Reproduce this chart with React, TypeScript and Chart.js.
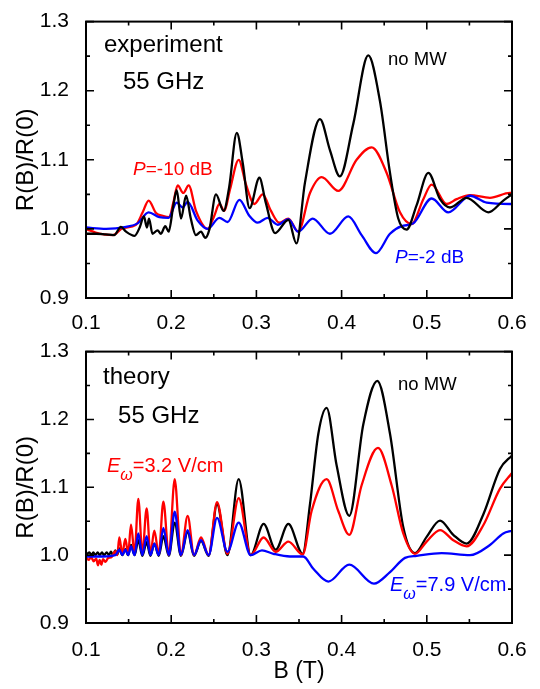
import React, { useEffect, useRef } from "react";
import { Chart, registerables } from "chart.js";

Chart.register(...registerables);

const FONT = '"Liberation Sans", Arial, Helvetica, sans-serif';

// Axis ticks
const xTicks = [0.1, 0.2, 0.3, 0.4, 0.5, 0.6];
const xMinorTicks = [0.15, 0.25, 0.35, 0.45, 0.55];
const yTicks = [0.9, 1.0, 1.1, 1.2, 1.3];
const yMinorTicks = [0.95, 1.05, 1.15, 1.25];

// ---------- Experiment (top panel) ----------
// no MW (black)
const expNoMwB = [0.100, 0.112, 0.123, 0.133, 0.141, 0.147, 0.157, 0.163, 0.168, 0.1715, 0.174, 0.178, 0.184, 0.188, 0.193, 0.197, 0.2025, 0.2065, 0.2115, 0.2175, 0.223, 0.229, 0.235, 0.240, 0.245, 0.2525, 0.2615, 0.268, 0.277, 0.284, 0.292, 0.3035, 0.311, 0.322, 0.3375, 0.347, 0.357, 0.3746, 0.3863, 0.398, 0.4137, 0.4313, 0.445, 0.4568, 0.4665, 0.4763, 0.488, 0.5018, 0.5155, 0.5272, 0.5468, 0.5722, 0.5898, 0.6];
const expNoMwR = [0.993, 0.993, 0.992, 0.991, 1.003, 0.996, 0.990, 1.002, 1.018, 1.002, 1.015, 0.993, 0.998, 0.993, 1.004, 0.996, 1.034, 1.056, 1.015, 1.048, 1.015, 0.991, 0.996, 0.987, 1.0, 1.05, 1.026, 1.06, 1.139, 1.095, 1.03, 1.074, 1.038, 0.994, 1.013, 0.979, 1.067, 1.159, 1.114, 1.076, 1.152, 1.251, 1.185, 1.081, 1.015, 0.999, 1.034, 1.081, 1.043, 1.031, 1.045, 1.024, 1.041, 1.05];
// P = -10 dB (red)
const expM10B = [0.100, 0.1156, 0.1313, 0.143, 0.1587, 0.1665, 0.1735, 0.1822, 0.190, 0.1978, 0.2025, 0.2076, 0.2142, 0.2205, 0.2291, 0.2428, 0.2506, 0.2565, 0.2624, 0.269, 0.2792, 0.2878, 0.2976, 0.3074, 0.3171, 0.3269, 0.3375, 0.349, 0.3629, 0.3766, 0.3961, 0.4176, 0.4353, 0.4529, 0.4685, 0.4822, 0.4959, 0.5057, 0.5233, 0.535, 0.5507, 0.5741, 0.5976, 0.6];
const expM10R = [1.0, 0.993, 0.991, 1.001, 1.006, 1.024, 1.041, 1.023, 1.019, 1.017, 1.038, 1.063, 1.052, 1.063, 1.026, 1.0, 1.019, 1.036, 1.026, 1.057, 1.1, 1.064, 1.036, 1.05, 1.026, 1.009, 1.015, 0.996, 1.052, 1.075, 1.055, 1.1, 1.118, 1.081, 1.024, 1.007, 1.043, 1.064, 1.036, 1.043, 1.049, 1.045, 1.052, 1.052];
// P = -2 dB (blue)
const expM2B = [0.100, 0.1235, 0.147, 0.1606, 0.1735, 0.186, 0.197, 0.2064, 0.2135, 0.2193, 0.2311, 0.2428, 0.2565, 0.2663, 0.280, 0.2917, 0.3015, 0.3132, 0.325, 0.3375, 0.349, 0.366, 0.3863, 0.4079, 0.4235, 0.4403, 0.4568, 0.4705, 0.4841, 0.5057, 0.5252, 0.5507, 0.5703, 0.5976, 0.6];
const expM2R = [1.002, 1.0, 1.003, 1.008, 1.024, 1.017, 1.016, 1.038, 1.031, 1.039, 1.012, 1.0, 1.016, 1.01, 1.042, 1.019, 1.009, 1.016, 1.006, 1.014, 0.996, 1.015, 0.993, 1.018, 0.991, 0.965, 0.993, 1.004, 1.008, 1.044, 1.024, 1.048, 1.038, 1.036, 1.036];

// ---------- Theory (bottom panel) ----------
// no MW (black)
const thNoMwB = [0.100, 0.1039, 0.1066, 0.1086, 0.111, 0.1137, 0.116, 0.1188, 0.121, 0.1243, 0.127, 0.1293, 0.1315, 0.1344, 0.1367, 0.1391, 0.1426, 0.1462, 0.1495, 0.1528, 0.157, 0.1614, 0.1661, 0.1712, 0.1756, 0.1802, 0.1854, 0.1908, 0.1972, 0.2041, 0.2114, 0.2193, 0.2268, 0.235, 0.2439, 0.2538, 0.266, 0.2792, 0.2933, 0.3085, 0.3226, 0.3375, 0.3543, 0.3629, 0.3727, 0.3824, 0.3942, 0.409, 0.4255, 0.4419, 0.4568, 0.4724, 0.4861, 0.4998, 0.5155, 0.5311, 0.5468, 0.5663, 0.5859, 0.6];
const thNoMwR = [1.0, 1.004, 1.0, 1.004, 1.0, 1.004, 1.0, 1.004, 1.0, 1.004, 1.0, 1.005, 1.0, 1.007, 1.001, 1.01, 1.0, 1.009, 1.0, 1.015, 1.0, 1.022, 0.999, 1.019, 0.999, 1.017, 0.999, 1.028, 0.999, 1.048, 0.999, 1.034, 0.999, 1.021, 0.999, 1.075, 1.0, 1.112, 1.0, 1.046, 1.008, 1.046, 1.002, 1.075, 1.179, 1.217, 1.132, 1.058, 1.193, 1.257, 1.179, 1.041, 1.003, 1.027, 1.051, 1.03, 1.017, 1.06, 1.127, 1.147];
// E = 3.2 V/cm (red)
const th32B = [0.100, 0.103, 0.106, 0.109, 0.112, 0.114, 0.116, 0.118, 0.120, 0.123, 0.126, 0.130, 0.1344, 0.1367, 0.1391, 0.1426, 0.1462, 0.1495, 0.1528, 0.157, 0.1614, 0.1661, 0.1712, 0.1756, 0.1802, 0.1854, 0.1908, 0.1972, 0.2041, 0.2114, 0.2193, 0.2268, 0.235, 0.2439, 0.2538, 0.266, 0.2792, 0.2933, 0.3085, 0.3226, 0.3375, 0.3543, 0.3648, 0.3824, 0.3961, 0.409, 0.4235, 0.4427, 0.4587, 0.4724, 0.4861, 0.4998, 0.5155, 0.5311, 0.5468, 0.5663, 0.5859, 0.6];
const th32R = [0.997, 0.993, 0.997, 0.991, 0.995, 0.985, 0.993, 0.986, 0.994, 0.990, 0.996, 0.997, 1.006, 1.0, 1.026, 1.002, 1.024, 1.002, 1.045, 1.002, 1.083, 1.002, 1.069, 1.002, 1.036, 1.001, 1.079, 1.0, 1.112, 1.0, 1.058, 1.0, 1.026, 1.0, 1.078, 1.002, 1.084, 1.0, 1.026, 1.005, 1.02, 1.001, 1.065, 1.112, 1.065, 1.03, 1.103, 1.158, 1.103, 1.032, 1.002, 1.02, 1.037, 1.022, 1.013, 1.044, 1.098, 1.121];
// E = 7.9 V/cm (blue)
const th79B = [0.100, 0.120, 0.1344, 0.1391, 0.1426, 0.1462, 0.1495, 0.1528, 0.157, 0.1614, 0.1661, 0.1712, 0.1756, 0.1802, 0.1854, 0.1908, 0.1972, 0.2041, 0.2114, 0.2193, 0.2268, 0.235, 0.2439, 0.2538, 0.266, 0.2792, 0.2933, 0.3065, 0.320, 0.3394, 0.355, 0.3668, 0.3844, 0.409, 0.438, 0.4568, 0.4744, 0.4881, 0.5174, 0.5507, 0.5741, 0.5898, 0.6];
const th79R = [0.998, 0.998, 1.0, 1.008, 1.0, 1.008, 1.0, 1.013, 1.0, 1.032, 1.0, 1.028, 1.0, 1.017, 1.0, 1.04, 1.0, 1.064, 1.0, 1.037, 1.0, 1.022, 1.0, 1.055, 1.005, 1.048, 1.0, 1.007, 1.002, 0.998, 0.998, 0.98, 0.961, 0.986, 0.958, 0.975, 0.996, 0.999, 1.003, 1.0, 1.015, 1.032, 1.036];

type Part = { t: string; size: number; italic?: boolean; dy?: number };
type Note = { b: number; r: number; color: string; parts: Part[] };

const topNotes: Note[] = [
  { b: 0.1211, r: 1.2557, color: "#000", parts: [{ t: "experiment", size: 24 }] },
  { b: 0.1434, r: 1.2024, color: "#000", parts: [{ t: "55 GHz", size: 24 }] },
  { b: 0.4545, r: 1.2379, color: "#000", parts: [{ t: "no MW", size: 18.5 }] },
  { b: 0.1552, r: 1.0776, color: "#ff0000", parts: [{ t: "P", size: 19, italic: true }, { t: "=-10 dB", size: 19 }] },
  { b: 0.4627, r: 0.9508, color: "#0000ff", parts: [{ t: "P", size: 19, italic: true }, { t: "=-2 dB", size: 19 }] },
];

const bottomNotes: Note[] = [
  { b: 0.12, r: 1.2526, color: "#000", parts: [{ t: "theory", size: 24 }] },
  { b: 0.1376, r: 1.1942, color: "#000", parts: [{ t: "55 GHz", size: 24 }] },
  { b: 0.4662, r: 1.2431, color: "#000", parts: [{ t: "no MW", size: 18.5 }] },
  { b: 0.1246, r: 1.1221, color: "#ff0000", parts: [{ t: "E", size: 20, italic: true }, { t: "ω", size: 16, italic: true, dy: 8 }, { t: "=3.2 V/cm", size: 20 }] },
  { b: 0.4568, r: 0.9466, color: "#0000ff", parts: [{ t: "E", size: 20, italic: true }, { t: "ω", size: 16, italic: true, dy: 8 }, { t: "=7.9 V/cm", size: 20 }] },
];

const boxPlugin = {
  id: "box",
  afterDatasetsDraw(chart: any) {
    const { ctx, chartArea: a, scales } = chart;
    const x = scales.x;
    const y = scales.y;
    ctx.save();
    ctx.strokeStyle = "#000";
    ctx.lineWidth = 1.6;
    ctx.beginPath();
    const seg = (x1: number, y1: number, x2: number, y2: number) => {
      ctx.moveTo(x1, y1);
      ctx.lineTo(x2, y2);
    };
    const xt = (vals: number[], len: number) =>
      vals.forEach((v) => {
        const p = x.getPixelForValue(v);
        seg(p, a.bottom, p, a.bottom - len);
        seg(p, a.top, p, a.top + len);
      });
    const yt = (vals: number[], len: number) =>
      vals.forEach((v) => {
        const p = y.getPixelForValue(v);
        seg(a.left, p, a.left + len, p);
        seg(a.right, p, a.right - len, p);
      });
    xt(xTicks, 8);
    xt(xMinorTicks, 4);
    yt(yTicks, 8);
    yt(yMinorTicks, 4);
    ctx.stroke();
    ctx.lineWidth = 2;
    ctx.strokeRect(a.left, a.top, a.right - a.left, a.bottom - a.top);
    ctx.restore();
  },
};

function notesPlugin(notes: Note[]) {
  return {
    id: "notes",
    afterDraw(chart: any) {
      const { ctx, scales } = chart;
      ctx.save();
      ctx.textBaseline = "alphabetic";
      ctx.textAlign = "left";
      notes.forEach((n) => {
        let px = scales.x.getPixelForValue(n.b);
        const py = scales.y.getPixelForValue(n.r);
        ctx.fillStyle = n.color;
        n.parts.forEach((p) => {
          ctx.font = `${p.italic ? "italic " : ""}${p.size}px ${FONT}`;
          ctx.fillText(p.t, px, py + (p.dy || 0));
          px += ctx.measureText(p.t).width;
        });
      });
      ctx.restore();
    },
  };
}

type Series = { b: number[]; r: number[]; color: string };

function makeConfig(series: Series[], notes: Note[], opts: { padTop: number; xHeight: number; xPad: number; showXTitle: boolean }) {
  return {
    type: "line" as const,
    data: {
      datasets: series.map((s) => ({
        data: s.b.map((b, i) => ({ x: b, y: s.r[i] })),
        borderColor: s.color,
        borderWidth: 2.3,
        pointRadius: 0,
        fill: false,
        cubicInterpolationMode: "monotone" as const,
      })),
    },
    options: {
      responsive: false,
      animation: false as const,
      events: [],
      layout: { padding: { top: opts.padTop, right: 28, left: 0, bottom: 0 } },
      plugins: { legend: { display: false }, tooltip: { enabled: false } },
      scales: {
        x: {
          type: "linear" as const,
          min: 0.1,
          max: 0.6,
          afterBuildTicks: (s: any) => {
            s.ticks = xTicks.map((v) => ({ value: v }));
          },
          afterFit: (s: any) => {
            s.height = opts.xHeight;
          },
          grid: { display: false },
          border: { display: false },
          ticks: {
            color: "#000",
            font: { size: 21, family: FONT },
            padding: opts.xPad,
            maxRotation: 0,
            autoSkip: false,
            callback: (v: any) => Number(v).toFixed(1),
          },
          title: {
            display: opts.showXTitle,
            text: "B (T)",
            color: "#000",
            font: { size: 23, family: FONT },
            padding: { top: 0, bottom: 4 },
          },
        },
        y: {
          type: "linear" as const,
          min: 0.9,
          max: 1.3,
          afterBuildTicks: (s: any) => {
            s.ticks = yTicks.map((v) => ({ value: v }));
          },
          afterFit: (s: any) => {
            s.width = 86;
          },
          grid: { display: false },
          border: { display: false },
          ticks: {
            color: "#000",
            font: { size: 21, family: FONT },
            padding: 9,
            autoSkip: false,
            callback: (v: any) => Number(v).toFixed(1),
          },
          title: {
            display: true,
            text: "R(B)/R(0)",
            color: "#000",
            font: { size: 24, family: FONT },
            padding: { top: 12, bottom: 0 },
          },
        },
      },
    },
    plugins: [boxPlugin, notesPlugin(notes)],
  };
}

export default function App() {
  const topRef = useRef<HTMLCanvasElement | null>(null);
  const botRef = useRef<HTMLCanvasElement | null>(null);

  useEffect(() => {
    document.body.style.margin = "0";
    const top = new Chart(
      topRef.current as HTMLCanvasElement,
      makeConfig(
        [
          { b: expNoMwB, r: expNoMwR, color: "#000000" },
          { b: expM2B, r: expM2R, color: "#0000ff" },
          { b: expM10B, r: expM10R, color: "#ff0000" },
        ],
        topNotes,
        { padTop: 15, xHeight: 32, xPad: 5, showXTitle: false }
      ) as any
    );
    const bot = new Chart(
      botRef.current as HTMLCanvasElement,
      makeConfig(
        [
          { b: th79B, r: th79R, color: "#0000ff" },
          { b: th32B, r: th32R, color: "#ff0000" },
          { b: thNoMwB, r: thNoMwR, color: "#000000" },
        ],
        bottomNotes,
        { padTop: 12, xHeight: 66, xPad: 7, showXTitle: true }
      ) as any
    );
    return () => {
      top.destroy();
      bot.destroy();
    };
  }, []);

  return (
    <div style={{ position: "absolute", left: 0, top: 0, width: 540, height: 689, background: "#fff" }}>
      <canvas ref={topRef} width={540} height={330} style={{ position: "absolute", left: 0, top: 0, width: 540, height: 330 }} />
      <canvas ref={botRef} width={540} height={359} style={{ position: "absolute", left: 0, top: 330, width: 540, height: 359 }} />
    </div>
  );
}
